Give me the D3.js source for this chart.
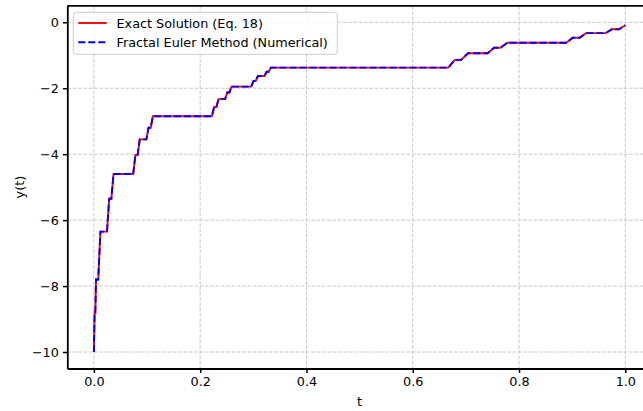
<!DOCTYPE html>
<html>
<head>
<meta charset="utf-8">
<script src="https://cdn.jsdelivr.net/npm/d3@7"></script>
<style>
  body { margin: 0; background: #fff; overflow: hidden; }
  text { font-family: "DejaVu Sans", sans-serif; fill: #000; }
</style>
</head>
<body>
<svg id="chart" width="643" height="411"></svg>
<script>
// plateaus of the staircase
const plateauStart = [0.0014, 0.0041, 0.0123, 0.0288, 0.037, 0.0782, 0.0864, 0.1029, 0.111,
    0.2263, 0.2346, 0.251, 0.259, 0.3004, 0.3086, 0.325, 0.333,
    0.679, 0.704, 0.753, 0.778, 0.901, 0.926, 0.975];
const plateauEnd = [0.0027, 0.0082, 0.0247, 0.0329, 0.074, 0.0823, 0.0988, 0.107, 0.222,
    0.2305, 0.2469, 0.255, 0.296, 0.3045, 0.321, 0.329, 0.667,
    0.691, 0.741, 0.765, 0.889, 0.914, 0.963, 0.988];
const plateauLevel = [-8.8, -7.8, -6.35, -5.35, -4.6, -4.02, -3.55, -3.2, -2.85,
    -2.57, -2.33, -2.13, -1.95, -1.78, -1.63, -1.5, -1.375,
    -1.14, -0.94, -0.77, -0.62, -0.47, -0.33, -0.21];
const startPoint = [0, -10];
const endPoint = [1.0, -0.09];

const xTicks = [0.0, 0.2, 0.4, 0.6, 0.8, 1.0];
const yTicks = [0, -2, -4, -6, -8, -10];

const seriesNames = ["Exact Solution (Eq. 18)", "Fractal Euler Method (Numerical)"];

// build vertex list
let exact = [startPoint];
plateauLevel.forEach((v, i) => {
    exact.push([plateauStart[i], v]);
    exact.push([plateauEnd[i], v]);
});
exact.push(endPoint);
let euler = exact.map(d => [d[0], d[1]]);

const svg = d3.select("#chart");
const plotLeft = 67.3, plotRight = 651.9, plotTop = 5.8, plotBottom = 368.5;
const fontSize = "12.8px";

const x = d3.scaleLinear().domain([-0.05, 1.05]).range([plotLeft, plotRight]);
const y = d3.scaleLinear().domain([-10.5, 0.5]).range([plotBottom, plotTop]);

// grid
const grid = svg.append("g");
grid.selectAll("line.gx").data(xTicks).join("line")
    .attr("class", "gx")
    .attr("x1", d => x(d)).attr("x2", d => x(d))
    .attr("y1", plotTop).attr("y2", plotBottom)
    .attr("stroke", "#c8c8c8").attr("stroke-width", 1)
    .attr("stroke-dasharray", "3.7,1.6");
grid.selectAll("line.gy").data(yTicks).join("line")
    .attr("class", "gy")
    .attr("x1", plotLeft).attr("x2", plotRight)
    .attr("y1", d => y(d)).attr("y2", d => y(d))
    .attr("stroke", "#c8c8c8").attr("stroke-width", 1)
    .attr("stroke-dasharray", "3.7,1.6");

const line = d3.line().x(d => x(d[0])).y(d => y(d[1]));

svg.append("path").datum(exact)
    .attr("d", line)
    .attr("fill", "none")
    .attr("stroke", "#ff0000")
    .attr("stroke-width", 1.9);

svg.append("path").datum(euler)
    .attr("d", line)
    .attr("fill", "none")
    .attr("stroke", "#0000ff")
    .attr("stroke-width", 1.9)
    .attr("stroke-dasharray", "7,3");

// axes
const xAxis = svg.append("g")
    .attr("transform", `translate(0, ${plotBottom})`)
    .call(d3.axisBottom(x).tickValues(xTicks).tickFormat(d3.format(".1f")).tickSizeInner(4.4).tickSizeOuter(0).tickPadding(4));
const yAxis = svg.append("g")
    .attr("transform", `translate(${plotLeft}, 0)`)
    .call(d3.axisLeft(y).tickValues(yTicks).tickFormat(d => d < 0 ? "\u2212" + Math.abs(d) : d).tickSizeInner(4.4).tickSizeOuter(0).tickPadding(4));

[xAxis, yAxis].forEach(a => {
    a.select(".domain").attr("stroke", "#000").attr("stroke-width", 1.8);
    a.selectAll(".tick line").attr("stroke", "#000").attr("stroke-width", 1.5);
    a.selectAll(".tick text").style("font-size", fontSize).style("font-family", "DejaVu Sans");
});

// top spine
svg.append("line")
    .attr("x1", plotLeft).attr("x2", plotRight)
    .attr("y1", plotTop).attr("y2", plotTop)
    .attr("stroke", "#000").attr("stroke-width", 1.8);

// labels
svg.append("text")
    .attr("x", (plotLeft + plotRight) / 2)
    .attr("y", 405.5)
    .attr("text-anchor", "middle")
    .style("font-size", fontSize)
    .text("t");

svg.append("text")
    .attr("transform", `translate(24, ${(plotTop + plotBottom) / 2}) rotate(-90)`)
    .attr("text-anchor", "middle")
    .style("font-size", fontSize)
    .text("y(t)");

// legend
const legend = svg.append("g");
legend.append("rect")
    .attr("x", 73.3).attr("y", 12.3)
    .attr("width", 264).attr("height", 42)
    .attr("rx", 3)
    .attr("fill", "#fff").attr("fill-opacity", 0.8)
    .attr("stroke", "#cccccc").attr("stroke-width", 1);

const legendColors = ["#ff0000", "#0000ff"];
const legendDash = [null, "7,3"];
seriesNames.forEach((name, i) => {
    const yy = 23 + i * 19.3;
    legend.append("line")
        .attr("x1", 78.3).attr("x2", 106.7)
        .attr("y1", yy).attr("y2", yy)
        .attr("stroke", legendColors[i])
        .attr("stroke-width", 1.9)
        .attr("stroke-dasharray", legendDash[i]);
    legend.append("text")
        .attr("x", 116.5).attr("y", yy + 4.5)
        .style("font-size", fontSize)
        .text(name);
});
</script>
</body>
</html>
